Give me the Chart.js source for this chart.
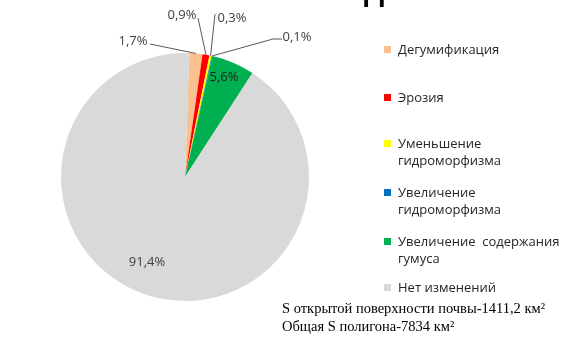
<!DOCTYPE html>
<html>
<head>
<meta charset="utf-8">
<script src="https://cdn.jsdelivr.net/npm/chart.js@4.4.1/dist/chart.umd.min.js"></script>
<style>
  html, body { margin:0; padding:0; background:#fff; }
  #wrap { position:relative; width:565px; height:338px; overflow:hidden; }
  #c { position:absolute; left:0; top:0; }
  #legend { position:absolute; left:0; top:0; width:565px; height:338px; pointer-events:none;
            font-family:"Open Sans", sans-serif; font-size:13px; color:#262626; }
  .li { position:absolute; left:384px; white-space:pre; line-height:17px; }
  .sw { position:absolute; left:0; top:5px; width:7px; height:7px; }
  .tx { position:absolute; left:14px; top:0; }
  #foot { position:absolute; left:282px; top:299px; font-family:"Liberation Serif", serif;
          font-size:14.5px; line-height:18px; color:#000; white-space:pre; }
  #ttl { position:absolute; left:364px; top:-29px; font-family:"Liberation Sans", sans-serif;
         font-weight:bold; font-size:32px; color:#000; }
</style>
</head>
<body>
<div id="wrap">
  <canvas id="c" width="565" height="338"></canvas>
  <div id="ttl">д</div>
  <div id="legend"></div>
  <div id="foot"></div>
</div>
<script>
// ---- data ----
const categories = ['Дегумификация', 'Эрозия', 'Уменьшение\nгидроморфизма', 'Увеличение\nгидроморфизма', 'Увеличение  содержания\nгумуса', 'Нет изменений'];
const values = [1.7, 0.9, 0.3, 0.1, 5.6, 91.4];
const colors = ['#FAC090', '#FF0000', '#FFFF00', '#0070C0', '#00B050', '#D9D9D9'];
const footnotes = ['S открытой поверхности почвы-1411,2 км²', 'Общая S полигона-7834 км²'];

// ---- layout (not data) ----
const legendTops = [41, 89, 135, 184, 233, 279];
// label offsets from pie centre; line start relative to label centre; optional elbow
const labelLayout = [
  { dx: -52, dy: -136, lx: 17, ly: 3 },
  { dx: -3,  dy: -162, lx: 16, ly: 3 },
  { dx: 47,  dy: -159, lx: -17, ly: -4 },
  { dx: 112, dy: -140, lx: -15, ly: 2, ex: -24, ey: 2 },
  { dx: 39,  dy: -100, inside: true, color: '#1e1e1e' },
  { dx: -38, dy: 85,   inside: true }
];

const fmt = v => v.toFixed(1).replace('.', ',') + '%';

const labelPlugin = {
  id: 'pieLabels',
  afterDatasetsDraw(chart) {
    const ctx = chart.ctx;
    const meta = chart.getDatasetMeta(0);
    ctx.save();
    ctx.font = '13px "Open Sans", sans-serif';
    ctx.textAlign = 'center';
    ctx.textBaseline = 'middle';
    meta.data.forEach((arc, i) => {
      const L = labelLayout[i];
      const cx = arc.x, cy = arc.y;
      const tx = cx + L.dx, ty = cy + L.dy;
      if (!L.inside) {
        const a = (arc.startAngle + arc.endAngle) / 2;
        const px = cx + Math.cos(a) * arc.outerRadius;
        const py = cy + Math.sin(a) * arc.outerRadius;
        ctx.strokeStyle = '#595959';
        ctx.lineWidth = 1;
        ctx.beginPath();
        ctx.moveTo(tx + L.lx, ty + L.ly);
        if (L.ex !== undefined) ctx.lineTo(tx + L.ex, ty + L.ey);
        ctx.lineTo(px, py);
        ctx.stroke();
      }
      ctx.fillStyle = L.color || '#404040';
      ctx.fillText(fmt(values[i]), tx, ty);
    });
    ctx.restore();
  }
};

new Chart(document.getElementById('c'), {
  type: 'pie',
  data: {
    labels: categories,
    datasets: [{ data: values, backgroundColor: colors, borderWidth: 0 }]
  },
  options: {
    responsive: false,
    animation: false,
    rotation: 2,
    layout: { padding: { left: 61, right: 256, top: 53, bottom: 37 } },
    plugins: { legend: { display: false }, tooltip: { enabled: false } }
  },
  plugins: [labelPlugin]
});

// legend (HTML, built from the arrays)
const lg = document.getElementById('legend');
categories.forEach((c, i) => {
  const d = document.createElement('div');
  d.className = 'li';
  d.style.top = legendTops[i] + 'px';
  const s = document.createElement('div');
  s.className = 'sw';
  s.style.background = colors[i];
  const t = document.createElement('div');
  t.className = 'tx';
  t.textContent = c;
  d.appendChild(s); d.appendChild(t);
  lg.appendChild(d);
});
document.getElementById('foot').textContent = footnotes.join('\n');
</script>
</body>
</html>
